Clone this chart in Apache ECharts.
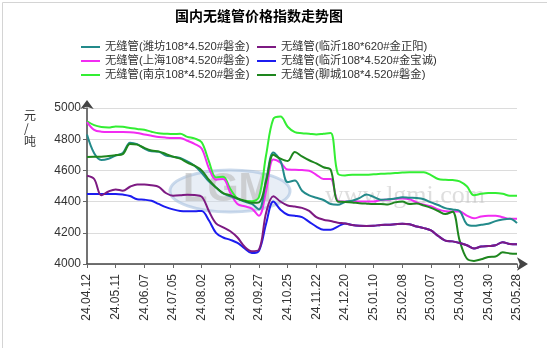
<!DOCTYPE html>
<html><head><meta charset="utf-8">
<script src="https://cdn.jsdelivr.net/npm/echarts@6/dist/echarts.min.js"></script>
<style>html,body{margin:0;padding:0;background:#fff}#c{width:547px;height:348px}</style>
</head><body><div id="c"></div>
<script>
const tickLabels = ['24.04.12','24.05.11','24.06.07','24.07.05','24.08.02','24.08.30','24.09.27','24.10.25','24.11.22','24.12.20','25.01.10','25.02.08','25.03.07','25.04.03','25.04.30','25.05.28'];

const weifang = [4830,4710,4667,4675,4695,4712,4778,4768,4740,4722,4720,4695,4688,4680,4658,4630,4585,4530,4490,4452,4434,4418,4400,4385,4350,4540,4715,4660,4525,4535,4470,4440,4425,4410,4385,4380,4398,4405,4422,4445,4430,4412,4415,4420,4428,4425,4423,4415,4395,4378,4358,4350,4340,4255,4245,4252,4258,4275,4285,4290,4262];
const shanghai = [4910,4860,4848,4846,4846,4846,4845,4840,4830,4822,4814,4810,4808,4808,4790,4770,4740,4615,4540,4545,4455,4385,4370,4355,4310,4470,4670,4650,4605,4604,4602,4598,4572,4545,4545,4405,4400,4400,4400,4400,4400,4410,4412,4418,4420,4415,4395,4380,4370,4350,4338,4336,4336,4310,4293,4305,4310,4310,4300,4290,4290];
const nanjing = [4915,4890,4878,4875,4882,4880,4872,4866,4860,4848,4838,4835,4833,4835,4815,4805,4780,4660,4555,4560,4480,4420,4405,4402,4430,4700,4930,4945,4880,4845,4838,4835,4830,4835,4840,4580,4568,4572,4572,4572,4575,4578,4580,4583,4586,4588,4588,4588,4570,4545,4540,4538,4530,4498,4440,4450,4455,4455,4450,4438,4437];
const linyiJZY = [4566,4545,4440,4465,4478,4470,4495,4510,4510,4505,4495,4455,4438,4440,4444,4442,4432,4340,4260,4235,4210,4170,4110,4082,4092,4330,4435,4400,4375,4368,4360,4340,4300,4284,4275,4265,4260,4250,4245,4244,4245,4250,4252,4255,4258,4255,4240,4230,4215,4180,4150,4145,4135,4120,4100,4112,4115,4120,4140,4128,4126];
const linyiJBC = [4449,4449,4449,4449,4449,4445,4436,4415,4412,4405,4385,4365,4350,4340,4338,4338,4340,4280,4200,4170,4155,4135,4100,4070,4085,4260,4400,4348,4316,4310,4300,4270,4240,4220,4220,4240,4260,4250,4245,4244,4245,4250,4252,4255,4258,4255,4240,4230,4215,4180,4150,4145,4135,4120,4100,4112,4115,4120,4140,4128,4126];
const liaocheng = [4686,4688,4688,4692,4698,4705,4770,4765,4744,4728,4722,4705,4688,4675,4650,4630,4600,4540,4490,4455,4440,4420,4405,4392,4395,4530,4700,4675,4660,4718,4690,4665,4645,4620,4605,4400,4398,4395,4390,4387,4385,4385,4382,4395,4400,4385,4388,4375,4360,4340,4320,4335,4150,4035,4020,4030,4045,4048,4075,4068,4066];

const names = {
  weifang: '无缝管(潍坊108*4.520#磐金)',
  shanghai: '无缝管(上海108*4.520#磐金)',
  nanjing: '无缝管(南京108*4.520#磐金)',
  linyiJZY: '无缝管(临沂180*620#金正阳)',
  linyiJBC: '无缝管(临沂108*4.520#金宝诚)',
  liaocheng: '无缝管(聊城108*4.520#磐金)'
};

const font = '"Liberation Sans","Noto Sans CJK SC",Arial,sans-serif';
const chart = echarts.init(document.getElementById('c'));
function pts(arr){ return arr.map((v,i)=>[i,v]); }
function mk(name, data, color, z){
  return {name:name, type:'line', data:pts(data), smooth:0.35, symbol:'none', z:z,
    lineStyle:{color:color, width:2}, itemStyle:{color:color}};
}
const legendCommon = {orient:'vertical', padding:0, itemWidth:19, itemHeight:10, itemGap:0,
  icon:'path://M0,4L19,4L19,6L0,6Z',
  textStyle:{fontSize:11.3, color:'#333', fontFamily:font, lineHeight:14}};

chart.setOption({
  animation:false,
  backgroundColor:'#fff',
  title:{text:'国内无缝管价格指数走势图', left:175, top:10, padding:0,
    textStyle:{fontSize:14, fontWeight:'bold', color:'#000', fontFamily:font}},
  legend:[
    Object.assign({left:81, top:40, data:[names.weifang, names.shanghai, names.nanjing]}, legendCommon),
    Object.assign({left:257, top:40, data:[names.linyiJZY, names.linyiJBC, names.liaocheng]}, legendCommon)
  ],
  grid:{left:87, right:30, top:108, bottom:84},
  xAxis:{type:'value', min:0, max:60, interval:4,
    axisLine:{lineStyle:{color:'#444', width:1.5}, symbol:['none','arrow'], symbolSize:[10,11], symbolOffset:[0,11]},
    axisTick:{show:true, length:4, lineStyle:{color:'#666'}},
    splitLine:{show:false},
    axisLabel:{rotate:90, fontSize:12, color:'#333', margin:10, fontFamily:font,
      formatter:function(v){ return tickLabels[Math.round(v/4)]; }}},
  yAxis:{type:'value', min:4000, max:5000, interval:200,
    axisLine:{show:true, lineStyle:{color:'#444', width:1.5}, symbol:['none','arrow'], symbolSize:[10,9], symbolOffset:[0,8]},
    axisTick:{show:true, length:4, lineStyle:{color:'#666'}},
    splitLine:{lineStyle:{color:'#dcdcdc'}},
    axisLabel:{fontSize:12, color:'#333', margin:6, fontFamily:font,
      formatter:function(v){ return String(v); }}},
  graphic:[
    {type:'rect', left:0, top:0, shape:{width:546, height:347}, style:{fill:'none', stroke:'#d4d4d4', lineWidth:1}, z:0},
    {type:'ellipse', shape:{cx:230, cy:191, rx:60, ry:21}, z:1,
      style:{fill:'rgba(205,218,236,0.45)', stroke:'rgba(160,188,220,0.55)', lineWidth:3}},
    {type:'text', left:183, top:170, z:1, style:{text:'LGM', font:'bold 40px "Liberation Sans",Arial', fill:'rgba(185,185,185,0.6)'}},
    {type:'text', left:325, top:183, z:1, style:{text:'www.lgmi.com', font:'26px "Liberation Serif",serif', fill:'rgba(195,195,195,0.55)'}},
    {type:'text', left:24, top:109, z:1, style:{text:'元\n/\n吨', font:'12px "Noto Sans CJK SC",sans-serif', fill:'#333', lineHeight:13, align:'center'}}
  ],
  series:[
    mk(names.nanjing, nanjing, '#33ee33', 2),
    mk(names.shanghai, shanghai, '#f22cf2', 3),
    mk(names.weifang, weifang, '#238a8a', 4),
    mk(names.liaocheng, liaocheng, '#1e861e', 5),
    mk(names.linyiJBC, linyiJBC, '#1c1cf0', 6),
    mk(names.linyiJZY, linyiJZY, '#7d1a82', 7)
  ]
});
</script></body></html>
